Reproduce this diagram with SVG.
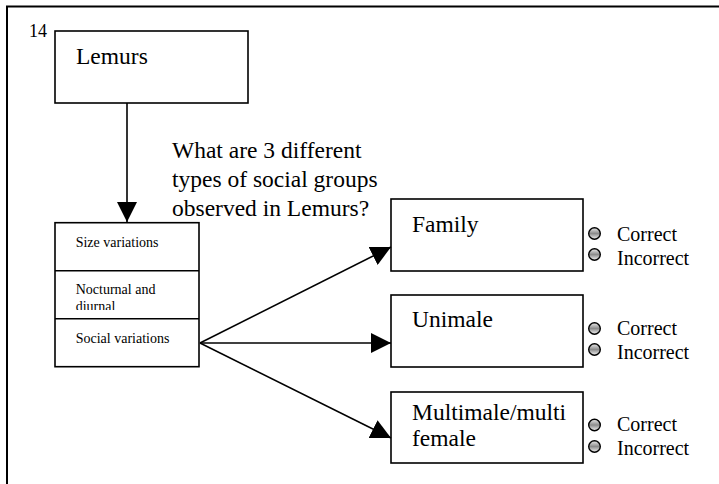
<svg xmlns="http://www.w3.org/2000/svg" width="719" height="484" viewBox="0 0 719 484">
<style>
text{font-family:"Liberation Serif","Times New Roman",serif;fill:#000}
.box{fill:#fff;stroke:#000;stroke-width:1.6}
.big{font-size:23.5px}
.sm{font-size:14px}
.opt{font-size:20px}
.rb{fill:url(#rg);stroke:#000;stroke-width:1.4}
.con{stroke:#000;stroke-width:1.6;fill:none}
</style>
<defs>
<linearGradient id="rg" x1="0" y1="0" x2="0" y2="1">
<stop offset="0" stop-color="#ececec"/>
<stop offset="0.5" stop-color="#8c8c8c"/>
<stop offset="1" stop-color="#f4f4f4"/>
</linearGradient>
<marker id="ah" markerWidth="20" markerHeight="20" refX="20" refY="10" orient="auto" markerUnits="userSpaceOnUse" viewBox="0 0 20 20">
<path d="M0,0 L20,10 L0,20 Z" fill="#000"/>
</marker>
<clipPath id="c2"><rect x="55" y="271" width="144" height="39"/></clipPath>
</defs>
<path d="M7,484 V6.5 H719" fill="none" stroke="#000" stroke-width="2"/>
<text x="29" y="36.5" font-size="18">14</text>
<g id="lemurs">
<rect class="box" x="55" y="31" width="193" height="72"/>
<text class="big" x="76" y="64">Lemurs</text>
</g>
<g id="question">
<text class="big" x="172" y="158">What are 3 different</text>
<text class="big" x="172" y="187">types of social groups</text>
<text class="big" x="172" y="216">observed in Lemurs?</text>
</g>
<g id="variations">
<rect class="box" x="55" y="222.7" width="144" height="144"/>
<line x1="55" y1="270.7" x2="199" y2="270.7" stroke="#000" stroke-width="1.6"/>
<line x1="55" y1="318.7" x2="199" y2="318.7" stroke="#000" stroke-width="1.6"/>
<text class="sm" x="75.7" y="247">Size variations</text>
<g clip-path="url(#c2)">
<text class="sm" x="75.7" y="294">Nocturnal and</text>
<text class="sm" x="75.7" y="311">diurnal</text>
</g>
<text class="sm" x="75.7" y="343">Social variations</text>
</g>
<g id="family">
<rect class="box" x="391" y="199" width="192" height="72"/>
<text class="big" x="412" y="232">Family</text>
<circle class="rb" cx="594.5" cy="233.5" r="5.8"/>
<circle class="rb" cx="594.5" cy="254.5" r="5.8"/>
<text class="opt" x="617" y="240.5">Correct</text>
<text class="opt" x="617" y="265">Incorrect</text>
</g>
<g id="unimale">
<rect class="box" x="391" y="295" width="192" height="72"/>
<text class="big" x="412" y="327">Unimale</text>
<circle class="rb" cx="594.5" cy="328.5" r="5.8"/>
<circle class="rb" cx="594.5" cy="349.5" r="5.8"/>
<text class="opt" x="617" y="335">Correct</text>
<text class="opt" x="617" y="359">Incorrect</text>
</g>
<g id="multimale">
<rect class="box" x="391" y="392" width="192" height="71"/>
<text class="big" x="412" y="420">Multimale/multi</text>
<text class="big" x="412" y="446">female</text>
<circle class="rb" cx="594.5" cy="425" r="5.8"/>
<circle class="rb" cx="594.5" cy="446.5" r="5.8"/>
<text class="opt" x="617" y="431">Correct</text>
<text class="opt" x="617" y="455">Incorrect</text>
</g>
<g id="connectors">
<line class="con" x1="127" y1="103" x2="127" y2="222" marker-end="url(#ah)"/>
<line class="con" x1="200" y1="343" x2="391" y2="247" marker-end="url(#ah)"/>
<line class="con" x1="200" y1="343" x2="391" y2="343" marker-end="url(#ah)"/>
<line class="con" x1="200" y1="343" x2="391" y2="438" marker-end="url(#ah)"/>
</g>
</svg>
